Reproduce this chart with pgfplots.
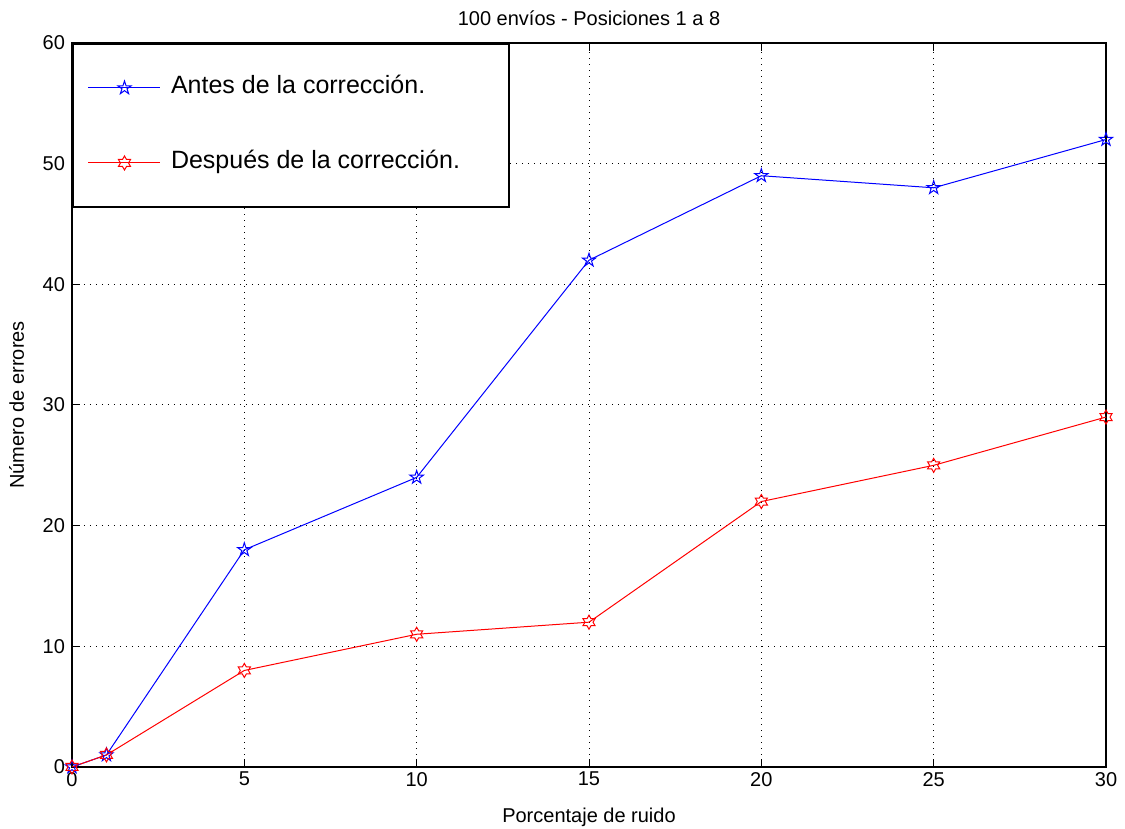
\documentclass[border=0pt]{standalone}
\usepackage{pgfplots}
\pgfplotsset{compat=1.18}
\usepackage{fontspec}
\setmainfont{Liberation Sans}
\usetikzlibrary{plotmarks}

\pgfdeclareplotmark{pentagram}{%
  \pgfpathmoveto{\pgfpointpolar{90}{\pgfplotmarksize}}%
  \pgfpathlineto{\pgfpointpolar{126}{0.382\pgfplotmarksize}}%
  \pgfpathlineto{\pgfpointpolar{162}{\pgfplotmarksize}}%
  \pgfpathlineto{\pgfpointpolar{198}{0.382\pgfplotmarksize}}%
  \pgfpathlineto{\pgfpointpolar{234}{\pgfplotmarksize}}%
  \pgfpathlineto{\pgfpointpolar{270}{0.382\pgfplotmarksize}}%
  \pgfpathlineto{\pgfpointpolar{306}{\pgfplotmarksize}}%
  \pgfpathlineto{\pgfpointpolar{342}{0.382\pgfplotmarksize}}%
  \pgfpathlineto{\pgfpointpolar{18}{\pgfplotmarksize}}%
  \pgfpathlineto{\pgfpointpolar{54}{0.382\pgfplotmarksize}}%
  \pgfpathclose\pgfusepathqstroke}

\pgfdeclareplotmark{hexagram}{%
  \pgfpathmoveto{\pgfpointpolar{90}{\pgfplotmarksize}}%
  \pgfpathlineto{\pgfpointpolar{120}{0.577\pgfplotmarksize}}%
  \pgfpathlineto{\pgfpointpolar{150}{\pgfplotmarksize}}%
  \pgfpathlineto{\pgfpointpolar{180}{0.577\pgfplotmarksize}}%
  \pgfpathlineto{\pgfpointpolar{210}{\pgfplotmarksize}}%
  \pgfpathlineto{\pgfpointpolar{240}{0.577\pgfplotmarksize}}%
  \pgfpathlineto{\pgfpointpolar{270}{\pgfplotmarksize}}%
  \pgfpathlineto{\pgfpointpolar{300}{0.577\pgfplotmarksize}}%
  \pgfpathlineto{\pgfpointpolar{330}{\pgfplotmarksize}}%
  \pgfpathlineto{\pgfpointpolar{0}{0.577\pgfplotmarksize}}%
  \pgfpathlineto{\pgfpointpolar{30}{\pgfplotmarksize}}%
  \pgfpathlineto{\pgfpointpolar{60}{0.577\pgfplotmarksize}}%
  \pgfpathclose\pgfusepathqstroke}

\begin{document}
\begin{tikzpicture}
\begin{axis}[
  scale only axis,
  width=517pt, height=362pt,
  xmin=0, xmax=30, ymin=0, ymax=60,
  xtick={0,5,10,15,20,25,30},
  ytick={0,10,20,30,40,50,60},
  tick align=inside,
  major tick length=4pt,
  axis line style={black, line width=0.6pt},
  tick style={black, line width=0.5pt},
  grid=major,
  major grid style={black, line width=0.5pt, dash pattern=on 0.6pt off 2.4pt},
  /pgf/number format/assume math mode=true,
  ticklabel style={font=\fontsize{10}{12}\selectfont},
  xticklabel style={yshift=1pt},
  title={100 envíos - Posiciones 1 a 8},
  title style={font=\fontsize{10}{12}\selectfont, yshift=-1pt},
  xlabel={Porcentaje de ruido},
  ylabel={Número de errores},
  label style={font=\fontsize{10}{12}\selectfont},
  xlabel style={yshift=-4pt},
  ylabel style={yshift=2.5pt},
  legend cell align=left,
  legend style={at={(0,1)}, anchor=north west, draw=black, line width=1pt,
    font=\fontsize{12.5}{15}\selectfont,
    inner xsep=7.5pt, inner ysep=16pt, row sep=25.5pt, column sep=3pt,
    nodes={inner xsep=2pt, inner ysep=0pt, text height=9pt, text depth=3pt}},
  legend image code/.code={%
    \draw[line width=0.5pt, #1] (0pt,0pt) -- (36pt,0pt);
    \draw[line width=0.5pt, #1] plot coordinates {(18pt,0pt)};},
]
\addplot[color={rgb,1:red,0;green,0;blue,1}, line width=0.5pt, mark=pentagram, mark size=3.5pt, mark options={solid}]
  coordinates {(0,0) (1,1) (5,18) (10,24) (15,42) (20,49) (25,48) (30,52)};
\addlegendentry{Antes de la corrección.}
\addplot[color={rgb,1:red,1;green,0;blue,0}, line width=0.5pt, mark=hexagram, mark size=3.5pt, mark options={solid}]
  coordinates {(0,0) (1,1) (5,8) (10,11) (15,12) (20,22) (25,25) (30,29)};
\addlegendentry{Después de la corrección.\hspace*{15pt}}
\end{axis}
\pgfresetboundingbox
\path ([shift={(-36pt,-31pt)}]current axis.south west) rectangle ([shift={(9.5pt,21.5pt)}]current axis.north east);
\end{tikzpicture}
\end{document}
